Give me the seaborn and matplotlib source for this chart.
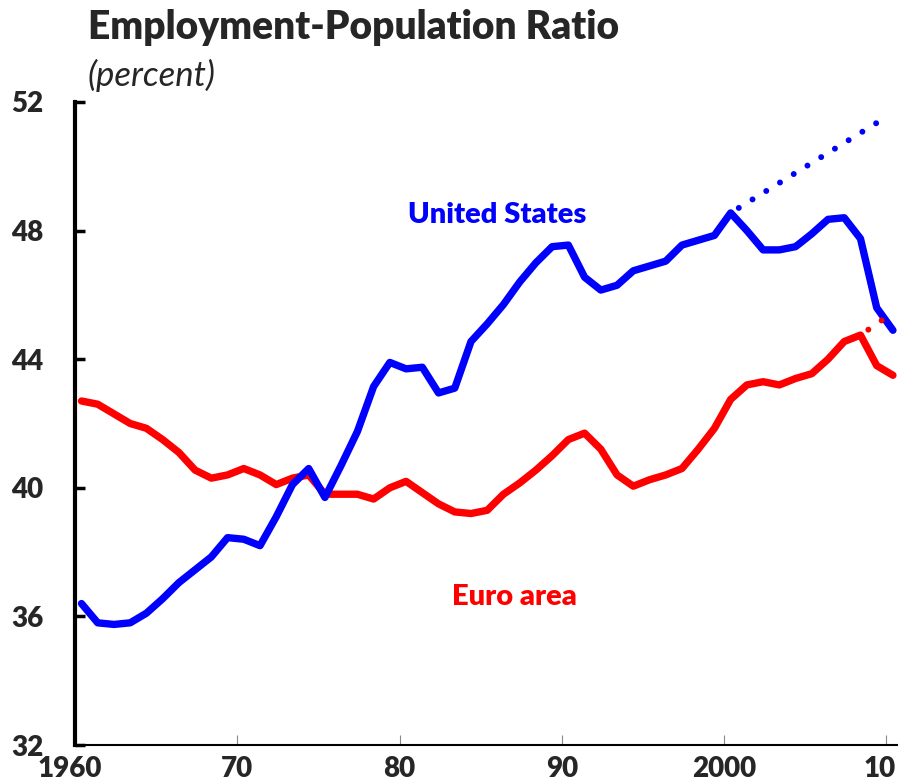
import pandas as pd
import numpy as np
import matplotlib
matplotlib.use("Agg")
import matplotlib.pyplot as plt
import matplotlib.transforms as mtransforms
import seaborn as sns

# data (annual, percent)
years = list(range(1960, 2011))
us = [36.4, 35.8, 35.75, 35.8, 36.1, 36.55, 37.05, 37.45, 37.85, 38.45,
      38.4, 38.2, 39.1, 40.1, 40.6, 39.7, 40.7, 41.75, 43.15, 43.9,
      43.7, 43.75, 42.95, 43.1, 44.55, 45.1, 45.7, 46.4, 47.0, 47.5,
      47.55, 46.55, 46.15, 46.3, 46.75, 46.9, 47.05, 47.55, 47.7, 47.85,
      48.55, 48.0, 47.4, 47.4, 47.5, 47.9, 48.35, 48.4, 47.75, 45.6,
      44.9]
euro = [42.7, 42.6, 42.3, 42.0, 41.85, 41.5, 41.1, 40.55, 40.3, 40.4,
        40.6, 40.4, 40.1, 40.3, 40.4, 39.8, 39.8, 39.8, 39.65, 40.0,
        40.2, 39.85, 39.5, 39.25, 39.2, 39.3, 39.8, 40.15, 40.55, 41.0,
        41.5, 41.7, 41.2, 40.4, 40.05, 40.25, 40.4, 40.6, 41.2, 41.85,
        42.75, 43.2, 43.3, 43.2, 43.4, 43.55, 44.0, 44.55, 44.75, 43.8,
        43.5]
us_trend_years = [2000, 2009]
us_trend = [48.55, 51.35]
euro_trend_years = [2008, 2010]
euro_trend = [44.75, 45.45]

xtick_vals = [1960, 1970, 1980, 1990, 2000, 2010]
xtick_labels = ["1960", "70", "80", "90", "2000", "10"]
ytick_vals = [32, 36, 40, 44, 48, 52]

BLUE = "#0000ff"
RED = "#ff0000"

sns.set_style("white")
plt.rcParams['font.family'] = ['Lato', 'DejaVu Sans']

# annual observations are drawn at mid-year
df = pd.DataFrame({"year": np.array(years) + 0.4, "us": us, "euro": euro})
df_us_tr = pd.DataFrame({"year": np.array(us_trend_years) + 0.4, "val": us_trend})
df_eu_tr = pd.DataFrame({"year": np.array(euro_trend_years) + 0.4, "val": euro_trend})

fig = plt.figure(figsize=(9, 7.84), dpi=100)
ax = fig.add_axes([75 / 900, 39 / 784, 822 / 900, 643 / 784])

dots = (1.1, (0.001, 2.7))
sns.lineplot(data=df_us_tr, x="year", y="val", ax=ax, color=BLUE, lw=4.3,
             linestyle=dots, dash_capstyle="round")
sns.lineplot(data=df, x="year", y="euro", ax=ax, color=RED, lw=5.3,
             solid_capstyle="round", solid_joinstyle="round")
sns.lineplot(data=df, x="year", y="us", ax=ax, color=BLUE, lw=5.3,
             solid_capstyle="round", solid_joinstyle="round")
sns.lineplot(data=df_eu_tr, x="year", y="val", ax=ax, color=RED, lw=4.3,
             linestyle=dots, dash_capstyle="round")

ax.set_xlim(1960, 2010.65)
ax.set_ylim(32, 52)
ax.set_xlabel("")
ax.set_ylabel("")

ax.set_xticks(xtick_vals)
ax.set_xticklabels(xtick_labels)
ax.set_yticks(ytick_vals)

for side in ["top", "right"]:
    ax.spines[side].set_visible(False)
ax.spines["left"].set_linewidth(3)
ax.spines["left"].set_color("black")
ax.spines["bottom"].set_linewidth(1.5)
ax.spines["bottom"].set_color("black")

ax.tick_params(axis="y", direction="in", length=7.5, width=2.5, color="black",
               pad=23, labelsize=20, left=True)
ax.tick_params(axis="x", direction="in", length=7, width=0.8, color="#888888",
               pad=8, labelsize=20, bottom=True)
for lab in ax.get_xticklabels() + ax.get_yticklabels():
    lab.set_fontweight("heavy")

# nudge the first and last year labels so they stay inside the figure
xlabs = ax.get_xticklabels()
xlabs[0].set_transform(xlabs[0].get_transform()
                       + mtransforms.ScaledTranslation(-4 / 72, 0, fig.dpi_scale_trans))
xlabs[-1].set_transform(xlabs[-1].get_transform()
                        + mtransforms.ScaledTranslation(-5 / 72, 0, fig.dpi_scale_trans))

ax.text(1986.0, 48.5, "United States", color=BLUE, fontsize=21,
        fontweight="heavy", ha="center", va="center")
ax.text(1987.1, 36.6, "Euro area", color=RED, fontsize=21,
        fontweight="heavy", ha="center", va="center")

fig.text(88 / 900, 1 - 28 / 784, "Employment-Population Ratio", fontsize=28,
         fontweight="heavy", ha="left", va="center")
fig.text(88 / 900, 1 - 75 / 784, "(percent)", fontsize=25, style="italic",
         ha="left", va="center")

plt.savefig("out.png", dpi=100)
